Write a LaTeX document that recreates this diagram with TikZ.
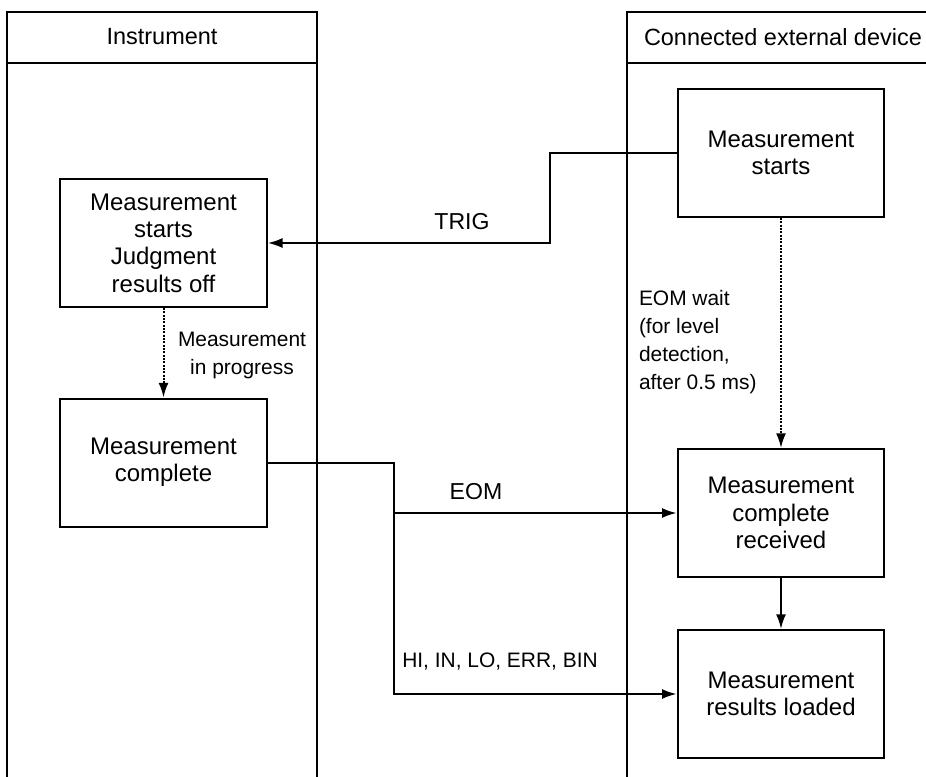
\documentclass[tikz,border=0pt]{standalone}
\usepackage{fontspec}
\setmainfont{Liberation Sans}
\usetikzlibrary{arrows.meta}
\begin{document}
\begin{tikzpicture}[x=0.75pt,y=-0.75pt,
  line width=1.5pt,
  box/.style={draw,line width=1.5pt,minimum width=155pt,minimum height=96pt,align=center,inner sep=0pt,
    font=\fontsize{18}{20.5}\selectfont},
  lbl/.style={inner sep=0pt,font=\fontsize{17.3}{20}\selectfont},
  slbl/.style={inner sep=0pt,font=\fontsize{15.7}{21}\selectfont},
  arr/.style={-{Latex[length=11pt,width=7.5pt]}},
  dotarr/.style={arr,dash pattern=on 1.5pt off 1pt}]
\useasboundingbox (0,0) rectangle (926,776);
% lanes
\draw (7,780) -- (7,12) -- (317,12) -- (317,780);
\draw (7,63) -- (317,63);
\draw (627,780) -- (627,12) -- (935,12);
\draw (627,63) -- (935,63);
\node[lbl,font=\fontsize{17.6}{20}\selectfont] (h1) at (162,37) {Instrument};
\node[lbl,font=\fontsize{17.6}{20}\selectfont,anchor=west] (h2) at (643,37) {Connected external device};
% boxes
\node[box] (i1) at (163.5,243) {Measurement\\starts\\Judgment\\results off};
\node[box] (i2) at (163.5,462.5) {Measurement\\complete};
\node[box] (e1) at (781,153) {Measurement\\starts};
\node[box] (e2) at (781,513) {Measurement\\complete\\received};
\node[box] (e3) at (781,694) {Measurement\\results loaded};
% connectors
\coordinate (tx) at (550,153);
\draw[arr] (e1.west) -- (tx) |- (i1.east);
\coordinate (br) at (394,462.5);
\draw[arr] (i2.east) -- (br) |- (e2.west);
\draw[arr] (br) |- (e3.west);
\draw[dotarr] (i1.south) -- (i2.north);
\draw[dotarr] (e1.south) -- (e2.north);
\draw[arr] (e2.south) -- (e3.north);
% labels
\node[lbl] (ltrig) at (462,222) {TRIG};
\node[lbl] (leom) at (476,492) {EOM};
\node[slbl] (lhi) at (500,662) {HI, IN, LO, ERR, BIN};
\node[slbl,align=center] (lprog) at (242,355) {Measurement\\in progress};
\node[slbl,align=left,anchor=west] (lwait) at (638,342) {EOM wait\\(for level\\detection,\\after 0.5 ms)};
\end{tikzpicture}
\end{document}
